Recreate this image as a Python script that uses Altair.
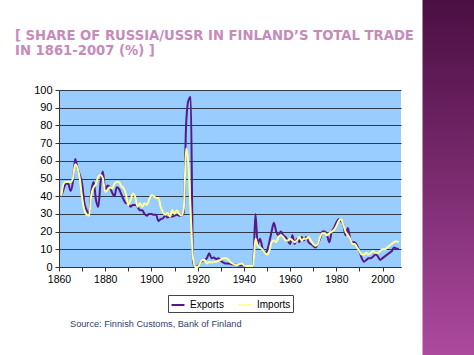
import altair as alt
import pandas as pd

years = list(range(1861, 2008))

exports = [
    40, 44, 47, 47, 43, 48, 61, 56, 52,            # 1861-1869
    47, 36, 32, 30, 43, 48, 38, 34, 48, 54,        # 1870-1879
    43, 46, 45, 42, 40, 45, 44, 41, 38, 36,        # 1880-1889
    36, 34, 35, 35, 34, 32, 32, 30, 29, 30,        # 1890-1899
    30, 29.5, 29.5, 26, 27, 27.5, 29, 28, 28.5, 28.5,  # 1900-1909
    29, 29.5, 29, 29, 31, 80, 94, 96, 3, 0,        # 1910-1919
    0.5, 2, 3.5, 4, 5, 7.7, 5, 5.3, 4.5, 5,        # 1920-1929
    3.5, 2.6, 2, 2, 1.9, 1.5, 1.5, 1.1, 0.8, 0.8,  # 1930-1939
    1.2, 0.3, 0.3, 0.3, 0.3, 30, 13, 16, 11, 8,    # 1940-1949
    9, 14, 20, 25, 20, 18, 20, 18, 17, 15,         # 1950-1959
    13, 18, 13, 16, 14, 17, 15, 17, 14, 13,        # 1960-1969
    12, 11, 13, 16, 20, 20, 18, 14, 20, 22,        # 1970-1979
    25, 27, 26, 24, 18, 22, 16, 14, 14, 12,        # 1980-1989
    9, 5, 3, 4, 5, 5, 6, 7, 6, 4,                  # 1990-1999
    5, 6, 7, 8, 9, 11, 10.5, 10,                   # 2000-2007
]

imports = [
    40, 47, 48, 48, 48, 50, 58, 56, 50,            # 1861-1869
    39, 32, 29.5, 29, 41, 45, 47, 51, 52, 50,      # 1870-1879
    42.5, 43.5, 45, 44.5, 47, 48, 48, 45.5, 44.5, 41,  # 1880-1889
    35, 38, 41.5, 39.5, 34, 36, 34, 36, 35, 38,    # 1890-1899
    40.5, 40, 39, 39, 34, 31, 29.5, 30.5, 28.5, 32,  # 1900-1909
    30, 32, 30, 29, 33, 67, 58, 30, 5, 0,          # 1910-1919
    0, 2, 4, 4, 2, 3, 2.5, 3, 3, 3.5,              # 1920-1929
    4, 5, 5, 4.5, 3, 2, 1.5, 1, 1.5, 2,            # 1930-1939
    1, 0.5, 0.5, 0.5, 0.5, 16, 12, 11, 10, 8,      # 1940-1949
    7, 9, 14, 15, 14, 17, 18, 17, 15, 15,          # 1950-1959
    16, 15, 14, 15, 17, 15, 16, 16, 17, 15,        # 1960-1969
    13, 12, 13, 17, 19, 19, 18, 19, 20, 21,        # 1970-1979
    23, 26, 27, 24, 20, 18, 16, 13, 13, 11,        # 1980-1989
    9, 7, 7, 8, 7, 8, 9, 8, 8, 9,                  # 1990-1999
    10, 10, 11, 12, 13, 14, 14.5, 14,              # 2000-2007
]

series_names = ["Exports", "Imports"]
series_colors = ["#56198A", "#FFFF99"]
x_ticks = [1860, 1870, 1880, 1890, 1900, 1910, 1920, 1930, 1940, 1950,
           1960, 1970, 1980, 1990, 2000]
y_ticks = [0, 10, 20, 30, 40, 50, 60, 70, 80, 90, 100]
title_lines = ["[ SHARE OF RUSSIA/USSR IN FINLAND\u2019S TOTAL TRADE",
               "IN 1861-2007 (%) ]"]
source_text = "Source: Finnish Customs, Bank of Finland"

df = pd.DataFrame({
    "year": years + years,
    "value": exports + imports,
    "series": [series_names[0]] * len(years) + [series_names[1]] * len(years),
})

lines = alt.Chart(df).mark_line(interpolate="monotone", strokeWidth=2).encode(
    x=alt.X("year:Q",
            scale=alt.Scale(domain=[1860, 2008], nice=False, zero=False),
            axis=alt.Axis(values=x_ticks, format="d",
                          labelExpr="datum.value % 20 == 0 ? datum.label : ''",
                          labelFlush=False, labelOverlap=False,
                          tickSize=4, tickColor="#333333", domainColor="#333333",
                          labelFont="Liberation Sans", labelFontSize=10.5,
                          labelColor="#000000", labelPadding=3, grid=False),
            title=None),
    y=alt.Y("value:Q",
            scale=alt.Scale(domain=[0, 100], nice=False),
            axis=alt.Axis(values=y_ticks, grid=True, gridColor="#2E3A4E",
                          gridOpacity=1, gridWidth=1, tickSize=4,
                          tickColor="#333333", domainColor="#333333",
                          labelFont="Liberation Sans", labelFontSize=11,
                          labelColor="#000000", labelPadding=3),
            title=None),
    color=alt.Color("series:N",
                    scale=alt.Scale(domain=series_names, range=series_colors),
                    legend=alt.Legend(title=None, orient="none", legendX=109,
                                      legendY=205, direction="horizontal",
                                      symbolType="stroke", symbolSize=170,
                                      symbolStrokeWidth=2,
                                      labelFont="Liberation Sans",
                                      labelFontSize=10, labelColor="#000000",
                                      columnPadding=10, padding=2,
                                      strokeColor="#444444", fillColor="#FFFFFF",
                                      cornerRadius=0)),
)

title1 = alt.Chart(pd.DataFrame({"t": [title_lines[0]]})).mark_text(
    align="left", baseline="alphabetic", font="DejaVu Sans", fontWeight="bold",
    fontSize=13.2, color="#C68BBA",
).encode(x=alt.value(-44), y=alt.value(-50.5), text="t:N")

title2 = alt.Chart(pd.DataFrame({"t": [title_lines[1]]})).mark_text(
    align="left", baseline="alphabetic", font="DejaVu Sans", fontWeight="bold",
    fontSize=13.2, color="#C68BBA",
).encode(x=alt.value(-44), y=alt.value(-35.5), text="t:N")

source = alt.Chart(pd.DataFrame({"t": [source_text]})).mark_text(
    align="left", baseline="alphabetic", font="Liberation Sans", fontSize=9.2,
    color="#2F3F6A",
).encode(x=alt.value(11), y=alt.value(237), text="t:N")

sidebar = alt.Chart(pd.DataFrame({"k": [0]})).mark_rect(
    color=alt.LinearGradient(
        gradient="linear",
        stops=[alt.GradientStop(color="#4A0F42", offset=0),
               alt.GradientStop(color="#7A2A6E", offset=0.5),
               alt.GradientStop(color="#AC4A9E", offset=1)],
        x1=0, x2=0, y1=0, y2=1),
).encode(x=alt.value(363.5), x2=alt.value(415), y=alt.value(-90), y2=alt.value(265))

chart = alt.layer(title1, title2, source, sidebar, lines).properties(
    width=342, height=177,
    autosize=alt.AutoSizeParams(type="none"),
    padding={"left": 59, "top": 90, "right": 73, "bottom": 88},
).configure(background="#FFFFFF").configure_view(fill="#99CCFF", stroke=None)

chart.save("out.html", embed_options={"renderer": "svg", "actions": False})
